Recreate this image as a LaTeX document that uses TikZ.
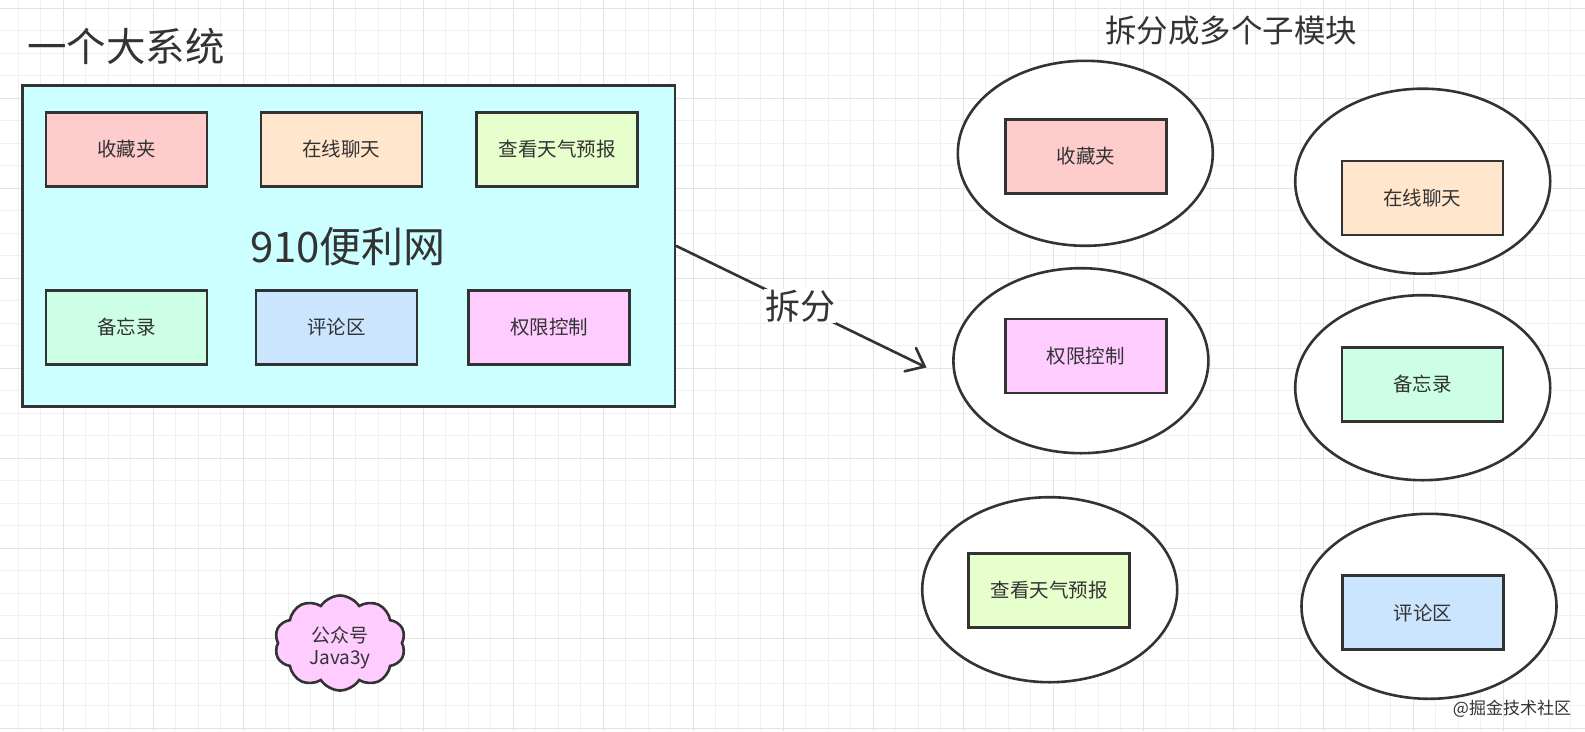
\documentclass[tikz,border=0pt]{standalone}
\usepackage{fontspec}
\setmainfont{Noto Sans CJK SC}
\usetikzlibrary{arrows.meta,shapes.symbols,shapes.geometric}
\definecolor{ink}{HTML}{333333}
\definecolor{gridminor}{HTML}{F0F0F0}
\definecolor{gridmajor}{HTML}{E3E3E3}
\definecolor{cyanfill}{HTML}{CCFFFF}
\definecolor{redfill}{HTML}{FFCCCC}
\definecolor{orangefill}{HTML}{FFE6CC}
\definecolor{greenfill}{HTML}{E6FFCC}
\definecolor{mintfill}{HTML}{CCFFE6}
\definecolor{bluefill}{HTML}{CCE5FF}
\definecolor{pinkfill}{HTML}{FFCCFF}
\tikzset{
  minorgrid/.style={draw=gridminor, line width=1pt},
  majorgrid/.style={draw=gridmajor, line width=1pt},
  modbox/.style={rectangle, draw=ink, line width=2.6pt, minimum width=161pt, minimum height=74pt, inner sep=0pt, text=ink, font=\fontsize{19.5}{23}\selectfont},
  bigbox/.style={rectangle, draw=ink, line width=2.6pt, fill=cyanfill, minimum width=652.5pt, minimum height=320.5pt, inner sep=0pt},
  modellipse/.style={ellipse, draw=ink, line width=2.6pt, fill=white, minimum width=255pt, minimum height=185pt, inner sep=0pt},
  bigtext/.style={text=ink, inner sep=0pt},
  arrowline/.style={draw=ink, line width=2.6pt, line cap=round, -{Straight Barb[length=16pt,width=26pt,line cap=round]}},
  cloudshape/.style={cloud, cloud puffs=10, cloud puff arc=115, draw=ink, line width=2.6pt, fill=pinkfill, minimum width=131pt, minimum height=95pt, inner sep=0pt, aspect=1.38},
}
\begin{document}
\begin{tikzpicture}[x=1pt,y=-1pt]
\useasboundingbox (0,0) rectangle (1585,731);
\fill[white] (0,0) rectangle (1585,731);
% grid
\foreach \xx in {18.3,40.8,...,1585} {\draw[minorgrid] (\xx,0) -- (\xx,731);}
\foreach \yy in {8.3,30.8,...,731} {\draw[minorgrid] (0,\yy) -- (1585,\yy);}
\foreach \xx in {63.3,153.3,...,1585} {\draw[majorgrid] (\xx,0) -- (\xx,731);}
\foreach \yy in {8.3,98.3,...,731} {\draw[majorgrid] (0,\yy) -- (1585,\yy);}

% titles
\node[bigtext, anchor=west, font=\fontsize{39.5}{45}\selectfont] (title1) at (27,46) {一个大系统};
\node[bigtext, font=\fontsize{31.5}{37}\selectfont] (title2) at (1231,31) {拆分成多个子模块};

% big system
\node[bigbox] (main) at (348.85,246) {};
\node[bigtext, font=\fontsize{42}{48}\selectfont] (mainlabel) at (348,246.7) {910便利网};
\node[modbox, fill=redfill] (a1) at (126.3,149.5) {收藏夹};
\node[modbox, fill=orangefill] (a2) at (341.3,149.5) {在线聊天};
\node[modbox, fill=greenfill] (a3) at (557.1,149.5) {查看天气预报};
\node[modbox, fill=mintfill] (a4) at (126.3,327.2) {备忘录};
\node[modbox, fill=bluefill] (a5) at (336.4,327.2) {评论区};
\node[modbox, fill=pinkfill] (a6) at (549.1,327.2) {权限控制};

% arrow
\coordinate (tip) at (926.5,367.5);
\draw[arrowline] (main.east) -- node[pos=0.495, fill=white, inner sep=1pt, text=ink, font=\fontsize{35}{40}\selectfont] (splitlabel) {拆分} (tip);

% modules
\node[modellipse] (e1) at (1085.3,153.3) {};
\node[modbox, fill=redfill] (b1) at (1085.9,156.3) {收藏夹};
\node[modellipse] (e2) at (1422.7,181.2) {};
\node[modbox, fill=orangefill] (b2) at (1422.3,198) {在线聊天};
\node[modellipse] (e3) at (1080.9,360.7) {};
\node[modbox, fill=pinkfill] (b3) at (1085.7,356) {权限控制};
\node[modellipse] (e4) at (1422.7,387.7) {};
\node[modbox, fill=mintfill] (b4) at (1422.3,384.5) {备忘录};
\node[modellipse] (e5) at (1049.7,589.7) {};
\node[modbox, fill=greenfill] (b5) at (1049.2,590.3) {查看天气预报};
\node[modellipse] (e6) at (1429,606.3) {};
\node[modbox, fill=bluefill] (b6) at (1423.1,612.7) {评论区};

% cloud
\node[cloudshape] (cloud) at (340,643) {};
\node[bigtext, align=center, font=\fontsize{19}{22}\selectfont] (cloudtext) at (340,647.5) {公众号\\Java3y};

% watermark
\node[bigtext, font=\fontsize{17}{20}\selectfont] (wm) at (1512,709) {@掘金技术社区};
\end{tikzpicture}
\end{document}
